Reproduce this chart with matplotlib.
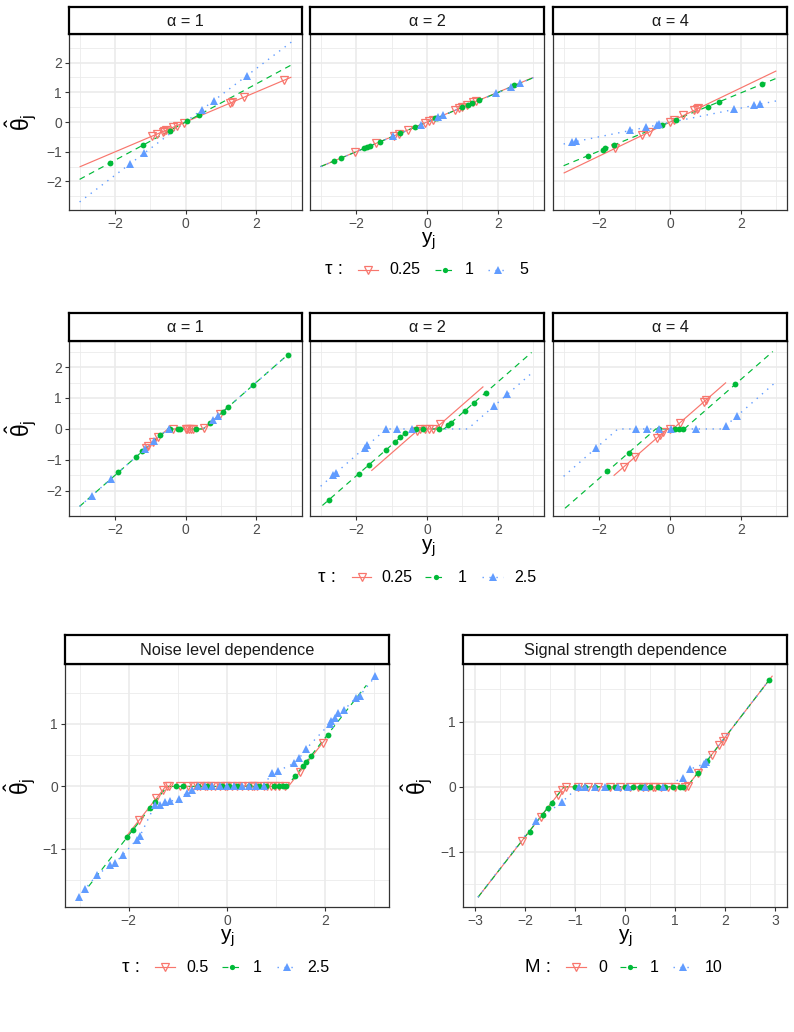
import numpy as np
import matplotlib
matplotlib.use("Agg")
import matplotlib.pyplot as plt
from matplotlib.lines import Line2D

plt.rcParams['font.family'] = ['Liberation Sans', 'DejaVu Sans']
plt.rcParams['mathtext.fontset'] = 'custom'
plt.rcParams['mathtext.rm'] = 'Liberation Sans'
plt.rcParams['mathtext.it'] = 'Liberation Sans:italic'
plt.rcParams['mathtext.sf'] = 'Liberation Sans'

RED, GREEN, BLUE = "#F8766D", "#00BA38", "#619CFF"

# ======================= DATA =======================
# ---- Row 1: linear shrinkage, tau = 0.25 / 1 / 5 ----
r1_alpha_labels = ["α = 1", "α = 2", "α = 4"]
r1_tau_labels = ["0.25", "1", "5"]
r1_line_x = [-3, 3]
# alpha = 1
r1a1_red_ly = [-1.51, 1.51]
r1a1_green_ly = [-1.93, 1.92]
r1a1_blue_ly = [-2.69, 2.69]
r1a1_red_x = [-0.95, -0.82, -0.65, -0.6, -0.55, -0.35, -0.25, -0.05, 1.25, 1.32, 1.65, 2.8]
r1a1_red_y = [-0.48, -0.41, -0.33, -0.3, -0.28, -0.18, -0.13, -0.03, 0.63, 0.66, 0.83, 1.4]
r1a1_green_x = [-2.15, -1.19, -0.45, 0.05, 0.38]
r1a1_green_y = [-1.38, -0.76, -0.29, 0.03, 0.24]
r1a1_blue_x = [-1.56, -1.17, 0.47, 0.8, 1.73]
r1a1_blue_y = [-1.4, -1.05, 0.42, 0.72, 1.56]
# alpha = 2
r1a2_red_ly = [-1.5, 1.5]
r1a2_green_ly = [-1.5, 1.49]
r1a2_blue_ly = [-1.5, 1.49]
r1a2_red_x = [-2.03, -1.44, -0.92, -0.79, -0.55, -0.07, 0.06, 0.16, 0.79, 0.91, 1.0, 1.12, 1.31, 1.37]
r1a2_red_y = [-1.02, -0.72, -0.46, -0.4, -0.28, -0.04, 0.03, 0.08, 0.4, 0.46, 0.5, 0.56, 0.66, 0.69]
r1a2_green_x = [-2.62, -2.42, -1.77, -1.70, -1.61, -1.32, -0.76, -0.34, 0.23, 0.29, 0.98, 1.16, 1.26, 1.46, 2.45]
r1a2_green_y = [-1.31, -1.21, -0.89, -0.85, -0.81, -0.66, -0.38, -0.17, 0.12, 0.15, 0.49, 0.58, 0.63, 0.73, 1.23]
r1a2_blue_x = [-0.95, -0.18, 0.32, 0.44, 1.94, 2.36, 2.62]
r1a2_blue_y = [-0.48, -0.09, 0.16, 0.22, 0.97, 1.18, 1.31]
# alpha = 4
r1a4_red_ly = [-1.72, 1.72]
r1a4_green_ly = [-1.47, 1.47]
r1a4_blue_ly = [-0.74, 0.71]
r1a4_red_x = [-1.54, -0.78, -0.59, 0.0, 0.11, 0.38, 0.68, 0.75, 0.8]
r1a4_red_y = [-0.88, -0.45, -0.34, 0.0, 0.06, 0.22, 0.39, 0.43, 0.46]
r1a4_green_x = [-2.31, -1.9, -1.82, -1.58, -0.22, 0.16, 1.06, 1.39, 2.59]
r1a4_green_y = [-1.13, -0.93, -0.89, -0.77, -0.11, 0.08, 0.52, 0.68, 1.27]
r1a4_blue_x = [-2.76, -2.66, -1.13, -0.69, -0.38, -0.31, 1.81, 2.36, 2.55]
r1a4_blue_y = [-0.66, -0.64, -0.27, -0.17, -0.09, -0.07, 0.43, 0.57, 0.62]

# ---- Row 2: thresholding, tau = 0.25 / 1 / 2.5 ----
r2_tau_labels = ["0.25", "1", "2.5"]
# alpha = 1
r2a1_red_lx = [-1.15, -0.5, 0.5, 1.25]
r2a1_red_ly = [-0.65, 0, 0, 0.75]
r2a1_green_lx = [-3.0, -0.5, 0.5, 2.9]
r2a1_green_ly = [-2.5, 0, 0, 2.4]
r2a1_blue_lx = [-3.0, -0.5, 0.5, 2.95]
r2a1_blue_ly = [-2.5, 0, 0, 2.45]
r2a1_red_x = [-1.13, -1.05, -0.92, -0.77, -0.35, 0.0, 0.05, 0.1, 0.15, 0.2, 0.52, 0.97]
r2a1_red_y = [-0.63, -0.55, -0.42, -0.27, 0, 0, 0, 0, 0, 0, 0.02, 0.47]
r2a1_green_x = [-1.9, -1.39, -1.22, -0.71, -0.44, -0.21, -0.15, 0.31, 0.69, 1.06, 1.21, 1.91, 2.9]
r2a1_green_y = [-1.4, -0.89, -0.72, -0.21, 0, 0, 0, 0, 0.19, 0.56, 0.71, 1.41, 2.4]
r2a1_blue_x = [-2.65, -2.1, -1.15, -0.9, -0.46, 0.78, 0.92]
r2a1_blue_y = [-2.15, -1.6, -0.65, -0.4, 0, 0.28, 0.42]
# alpha = 2
r2a2_red_lx = [-1.57, -0.22, 0.22, 1.59]
r2a2_red_ly = [-1.35, 0, 0, 1.37]
r2a2_green_lx = [-2.95, -0.48, 0.48, 2.95]
r2a2_green_ly = [-2.47, 0, 0, 2.47]
r2a2_blue_lx = [-3.0, -1.15, 1.15, 3.0]
r2a2_blue_ly = [-1.85, 0, 0, 1.85]
r2a2_red_x = [-0.29, -0.2, -0.06, 0.06, 0.18, 0.37]
r2a2_red_y = [-0.07, 0, 0, 0, 0, 0.15]
r2a2_green_x = [-2.77, -1.92, -1.63, -1.16, -0.91, -0.75, -0.62, -0.31, -0.1, 0.33, 0.6, 0.68, 1.07, 1.32, 1.65]
r2a2_green_y = [-2.29, -1.44, -1.15, -0.68, -0.43, -0.27, -0.14, 0, 0, 0, 0.12, 0.2, 0.59, 0.84, 1.17]
r2a2_blue_x = [-2.65, -2.58, -1.76, -1.68, -1.16, -0.86, -0.43, 1.9, 2.27]
r2a2_blue_y = [-1.5, -1.43, -0.61, -0.53, 0, 0, 0, 0.75, 1.12]
# alpha = 4
r2a4_red_lx = [-1.59, -0.08, 0.08, 1.58]
r2a4_red_ly = [-1.51, 0, 0, 1.5]
r2a4_green_lx = [-2.96, -0.4, 0.4, 2.9]
r2a4_green_ly = [-2.56, 0, 0, 2.5]
r2a4_blue_lx = [-3.0, -1.47, 1.47, 3.02]
r2a4_blue_ly = [-1.53, 0, 0, 1.55]
r2a4_red_x = [-1.3, -0.99, -0.38, -0.28, -0.19, 0.0, 0.27, 0.95, 1.02]
r2a4_red_y = [-1.22, -0.91, -0.3, -0.2, -0.11, 0, 0.19, 0.87, 0.94]
r2a4_green_x = [-1.77, -1.16, -0.31, 0.13, 0.25, 0.38, 1.84]
r2a4_green_y = [-1.37, -0.76, 0, 0, 0, 0, 1.44]
r2a4_blue_x = [-2.1, -0.97, -0.64, -0.31, 0.02, 0.73, 1.58, 1.88]
r2a4_blue_y = [-0.63, 0, 0, 0, 0, 0, 0.11, 0.41]

# ---- Row 3 left: noise level dependence, tau = 0.5 / 1 / 2.5 ----
r3n_title = "Noise level dependence"
r3n_tau_labels = ["0.5", "1", "2.5"]
r3n_red_lx = [-2.05, -1.25, 1.25, 2.02]
r3n_red_ly = [-0.8, 0, 0, 0.77]
r3n_green_lx = [-2.82, -1.22, 1.22, 2.84]
r3n_green_ly = [-1.6, 0, 0, 1.62]
r3n_red_x = [-1.79, -1.44, -1.3, -1.22, -1.18, -0.95, -0.8, -0.7, -0.62, -0.55, -0.45, -0.4, -0.33,
             -0.25, -0.15, -0.05, 0.0, 0.1, 0.2, 0.3, 0.42, 0.5, 0.55, 0.62, 0.75, 0.82, 0.9, 0.97,
             1.05, 1.18, 1.48, 1.95]
r3n_red_y = [-0.54, -0.19, -0.05, 0, 0, 0, 0, 0, 0, 0, 0, 0, 0,
             0, 0, 0, 0, 0, 0, 0, 0, 0, 0, 0, 0, 0, 0, 0,
             0, 0, 0.23, 0.7]
r3n_green_x = [-2.03, -1.91, -1.57, -1.47, -1.03, -0.89, -0.6, -0.4, -0.1, 0.05, 0.2, 0.45, 0.65,
               0.8, 0.95, 1.05, 1.15, 1.2, 1.38, 1.54, 1.61, 1.71, 2.05]
r3n_green_y = [-0.81, -0.69, -0.35, -0.25, 0, 0, 0, 0, 0, 0, 0, 0, 0,
               0, 0, 0, 0, 0, 0.16, 0.32, 0.39, 0.49, 0.83]
r3n_blue_x = [-3.02, -2.89, -2.65, -2.38, -2.28, -2.11, -1.84, -1.77, -1.47, -1.36,
              -1.26, -1.16, -0.98, -0.81, -0.72, -0.6, -0.45, -0.3, -0.15, 0.0,
              0.15, 0.3, 0.45, 0.6, 0.75, 0.91, 1.04, 1.37, 1.47, 1.61,
              2.09, 2.12, 2.19, 2.26, 2.39, 2.63, 2.7, 3.02]
r3n_blue_y = [-1.77, -1.64, -1.42, -1.26, -1.22, -1.09, -0.85, -0.79, -0.30, -0.29,
              -0.25, -0.24, -0.2, -0.1, -0.05, 0, 0, 0, 0, 0,
              0, 0, 0, 0, 0, 0.22, 0.25, 0.37, 0.45, 0.6,
              1.0, 1.05, 1.1, 1.18, 1.23, 1.42, 1.45, 1.76]

# ---- Row 3 right: signal strength dependence, M = 0 / 1 / 10 ----
r3s_title = "Signal strength dependence"
r3s_m_labels = ["0", "1", "10"]
r3s_red_lx = [-2.94, -1.22, 1.24, 2.95]
r3s_red_ly = [-1.70, 0, 0, 1.71]
r3s_green_lx = [-2.94, -1.22, 1.24, 2.95]
r3s_green_ly = [-1.70, 0, 0, 1.71]
r3s_blue_lx = [-2.94, -1.78, -1.27, -0.93, 0.8, 1.15, 1.3, 1.57, 1.62, 2.95]
r3s_blue_ly = [-1.70, -0.53, -0.24, 0, 0, 0.14, 0.27, 0.35, 0.38, 1.71]
r3s_red_x = [-2.06, -1.68, -1.35, -1.27, -1.19, -0.95, -0.75, -0.55, -0.3, -0.1, 0.1, 0.25, 0.35,
             0.45, 0.55, 0.6, 0.72, 0.85, 1.0, 1.2, 1.26, 1.45, 1.73, 1.88, 1.95, 2.0]
r3s_red_y = [-0.84, -0.46, -0.13, -0.05, 0, 0, 0, 0, 0, 0, 0, 0, 0,
             0, 0, 0, 0, 0, 0, 0, 0.02, 0.21, 0.49, 0.64, 0.71, 0.76]
r3s_green_x = [-1.91, -1.65, -1.55, -1.47, -1.0, -0.8, -0.6, -0.35, -0.2, 0.0, 0.15, 0.3, 0.35,
               0.5, 0.65, 0.8, 0.95, 1.1, 1.15, 1.46, 1.63, 2.88]
r3s_green_y = [-0.69, -0.43, -0.33, -0.25, 0, 0, 0, 0, 0, 0, 0, 0, 0,
               0, 0, 0, 0, 0, 0, 0.22, 0.39, 1.65]
r3s_blue_x = [-1.78, -1.27, -0.93, -0.8, -0.6, -0.4, -0.15, 0.05, 0.4, 0.75, 1.15, 1.3, 1.57, 1.62]
r3s_blue_y = [-0.53, -0.24, 0, 0, 0, 0, 0, 0, 0, 0, 0.14, 0.27, 0.35, 0.38]

# ======================= STYLE / LAYOUT =======================
W, H, DPI = 794, 1032, 100
fig = plt.figure(figsize=(W / DPI, H / DPI), dpi=DPI)
fig.patch.set_facecolor("white")

STY = {
    "red": dict(color=RED, ls="-", lw=0.85, marker="v", ms=6.3, mfc="none", mec=RED, mew=0.9),
    "green": dict(color=GREEN, ls=(0, (5, 4)), lw=0.85, marker="o", ms=4.2, mfc=GREEN, mec=GREEN, mew=0),
    "blue": dict(color=BLUE, ls=(0, (1, 4)), lw=1.0, marker="^", ms=6.2, mfc=BLUE, mec=BLUE, mew=0),
}

TICK_FS, STRIP_FS, TITLE_FS, YTITLE_FS, LEG_FS = 10, 11.7, 15, 16.5, 11.5


def fx(x):
    return x / W


def fy(y):
    return 1 - y / H


def make_panel(box, xlim, ylim, xmaj, xmin, ymaj, ymin, ylab=True):
    l, t, r, b = box
    ax = fig.add_axes([fx(l), fy(b), (r - l) / W, (b - t) / H])
    ax.set_xlim(xlim)
    ax.set_ylim(ylim)
    ax.set_xticks(xmaj)
    ax.set_xticks(xmin, minor=True)
    ax.set_yticks(ymaj)
    ax.set_yticks(ymin, minor=True)
    ax.grid(True, which="major", color="#EBEBEB", lw=1.2)
    ax.grid(True, which="minor", color="#EBEBEB", lw=0.6)
    ax.set_axisbelow(True)
    ax.tick_params(which="major", length=3.0, width=0.8, color="#333333",
                   labelsize=TICK_FS, labelcolor="#4D4D4D", pad=2)
    ax.tick_params(which="minor", length=0)
    if not ylab:
        ax.tick_params(axis="y", which="both", left=False, labelleft=False)
    for s in ax.spines.values():
        s.set_color("#333333")
        s.set_linewidth(0.9)
    return ax


def make_strip(l, r, t, b, text):
    sax = fig.add_axes([fx(l), fy(b), (r - l) / W, (b - t) / H])
    sax.set_xticks([])
    sax.set_yticks([])
    sax.set_facecolor("white")
    for s in sax.spines.values():
        s.set_color("black")
        s.set_linewidth(1.6)
    sax.text(0.5, 0.47, text, ha="center", va="center", fontsize=STRIP_FS,
             color="#1A1A1A", transform=sax.transAxes)
    return sax


def draw(ax, series):
    # lines first, then points (ggplot layer order)
    for key, lx, ly, px, py in series:
        st = STY[key]
        ax.plot(lx, ly, color=st["color"], ls=st["ls"], lw=st["lw"], solid_capstyle="butt")
    for key, lx, ly, px, py in series:
        st = STY[key]
        ax.plot(px, py, ls="none", marker=st["marker"], ms=st["ms"], mfc=st["mfc"],
                mec=st["mec"], mew=st["mew"])


def legend_row(y, title, title_x, items):
    fig.text(fx(title_x), fy(y), title, ha="left", va="center", fontsize=13.5, color="black")
    for key, x0, x1, tx, label in items:
        st = STY[key]
        fig.add_artist(Line2D([fx(x0), fx(x1)], [fy(y), fy(y)], transform=fig.transFigure,
                              color=st["color"], ls=st["ls"], lw=st["lw"]))
        fig.add_artist(Line2D([fx((x0 + x1) / 2)], [fy(y)], transform=fig.transFigure,
                              ls="none", marker=st["marker"], ms=st["ms"] * 0.9, mfc=st["mfc"],
                              mec=st["mec"], mew=st["mew"]))
        fig.text(fx(tx), fy(y), label, ha="left", va="center", fontsize=LEG_FS, color="black")


YLAB = r"$\hat{\mathrm{\theta}}_{\mathrm{j}}$"
XLAB = r"$\mathrm{y}_{\mathrm{j}}$"

XMAJ = [-2, 0, 2]
XMIN = [-3, -1, 1, 3]
YMAJ = [-2, -1, 0, 1, 2]
YMIN = [-2.5, -1.5, -0.5, 0.5, 1.5, 2.5]

# ---------------- Row 1 ----------------
cols = [(69, 302), (310, 544), (553, 787)]
r1_series = [
    [("red", r1_line_x, r1a1_red_ly, r1a1_red_x, r1a1_red_y),
     ("green", r1_line_x, r1a1_green_ly, r1a1_green_x, r1a1_green_y),
     ("blue", r1_line_x, r1a1_blue_ly, r1a1_blue_x, r1a1_blue_y)],
    [("red", r1_line_x, r1a2_red_ly, r1a2_red_x, r1a2_red_y),
     ("green", r1_line_x, r1a2_green_ly, r1a2_green_x, r1a2_green_y),
     ("blue", r1_line_x, r1a2_blue_ly, r1a2_blue_x, r1a2_blue_y)],
    [("red", r1_line_x, r1a4_red_ly, r1a4_red_x, r1a4_red_y),
     ("green", r1_line_x, r1a4_green_ly, r1a4_green_x, r1a4_green_y),
     ("blue", r1_line_x, r1a4_blue_ly, r1a4_blue_x, r1a4_blue_y)],
]
for i, (l, r) in enumerate(cols):
    ax = make_panel((l, 34, r, 210), (-3.3, 3.3), (-2.96, 2.96), XMAJ, XMIN, YMAJ, YMIN, ylab=(i == 0))
    draw(ax, r1_series[i])
    make_strip(l, r, 7, 34, r1_alpha_labels[i])
fig.text(fx(21), fy(122), YLAB, rotation=90, ha="center", va="center", fontsize=YTITLE_FS)
fig.text(fx(428), fy(241), XLAB, ha="center", va="center", fontsize=TITLE_FS)
legend_row(270, "τ :", 325, [("red", 358, 378, 389, r1_tau_labels[0]),
                             ("green", 435, 454, 465, r1_tau_labels[1]),
                             ("blue", 488, 508, 519, r1_tau_labels[2])])

# ---------------- Row 2 ----------------
r2_series = [
    [("red", r2a1_red_lx, r2a1_red_ly, r2a1_red_x, r2a1_red_y),
     ("green", r2a1_green_lx, r2a1_green_ly, r2a1_green_x, r2a1_green_y),
     ("blue", r2a1_blue_lx, r2a1_blue_ly, r2a1_blue_x, r2a1_blue_y)],
    [("red", r2a2_red_lx, r2a2_red_ly, r2a2_red_x, r2a2_red_y),
     ("green", r2a2_green_lx, r2a2_green_ly, r2a2_green_x, r2a2_green_y),
     ("blue", r2a2_blue_lx, r2a2_blue_ly, r2a2_blue_x, r2a2_blue_y)],
    [("red", r2a4_red_lx, r2a4_red_ly, r2a4_red_x, r2a4_red_y),
     ("green", r2a4_green_lx, r2a4_green_ly, r2a4_green_x, r2a4_green_y),
     ("blue", r2a4_blue_lx, r2a4_blue_ly, r2a4_blue_x, r2a4_blue_y)],
]
for i, (l, r) in enumerate(cols):
    ax = make_panel((l, 341, r, 516), (-3.3, 3.3), (-2.81, 2.84), XMAJ, XMIN, YMAJ, YMIN, ylab=(i == 0))
    draw(ax, r2_series[i])
    make_strip(l, r, 313, 341, r1_alpha_labels[i])
fig.text(fx(21), fy(428), YLAB, rotation=90, ha="center", va="center", fontsize=YTITLE_FS)
fig.text(fx(428), fy(548), XLAB, ha="center", va="center", fontsize=TITLE_FS)
legend_row(577, "τ :", 318, [("red", 352, 371, 381, r2_tau_labels[0]),
                             ("green", 425, 446, 458, r2_tau_labels[1]),
                             ("blue", 482, 503, 514, r2_tau_labels[2])])

# ---------------- Row 3 ----------------
ax = make_panel((65, 664, 389, 907), (-3.3, 3.3), (-1.93, 1.96), XMAJ, XMIN,
                [-1, 0, 1], [-1.5, -0.5, 0.5, 1.5])
draw(ax, [("red", r3n_red_lx, r3n_red_ly, r3n_red_x, r3n_red_y),
          ("green", r3n_green_lx, r3n_green_ly, r3n_green_x, r3n_green_y),
          ("blue", r3n_blue_x, r3n_blue_y, r3n_blue_x, r3n_blue_y)])
make_strip(65, 389, 635, 664, r3n_title)
fig.text(fx(20), fy(786), YLAB, rotation=90, ha="center", va="center", fontsize=YTITLE_FS)
fig.text(fx(227), fy(938), XLAB, ha="center", va="center", fontsize=TITLE_FS)
legend_row(967, "τ :", 122, [("red", 155, 175, 186, r3n_tau_labels[0]),
                             ("green", 222, 242, 253, r3n_tau_labels[1]),
                             ("blue", 277, 297, 307, r3n_tau_labels[2])])

ax = make_panel((463, 664, 787, 907), (-3.24, 3.24), (-1.85, 1.89), [-3, -2, -1, 0, 1, 2, 3],
                [-2.5, -1.5, -0.5, 0.5, 1.5, 2.5], [-1, 0, 1], [-1.5, -0.5, 0.5, 1.5])
draw(ax, [("red", r3s_red_lx, r3s_red_ly, r3s_red_x, r3s_red_y),
          ("green", r3s_green_lx, r3s_green_ly, r3s_green_x, r3s_green_y),
          ("blue", r3s_blue_lx, r3s_blue_ly, r3s_blue_x, r3s_blue_y)])
make_strip(463, 787, 635, 664, r3s_title)
fig.text(fx(417), fy(786), YLAB, rotation=90, ha="center", va="center", fontsize=YTITLE_FS)
fig.text(fx(625), fy(938), XLAB, ha="center", va="center", fontsize=TITLE_FS)
legend_row(967, "M :", 525, [("red", 566, 586, 598, r3s_m_labels[0]),
                             ("green", 620, 639, 650, r3s_m_labels[1]),
                             ("blue", 673, 693, 705, r3s_m_labels[2])])

fig.savefig("out.png", dpi=DPI, facecolor="white")
